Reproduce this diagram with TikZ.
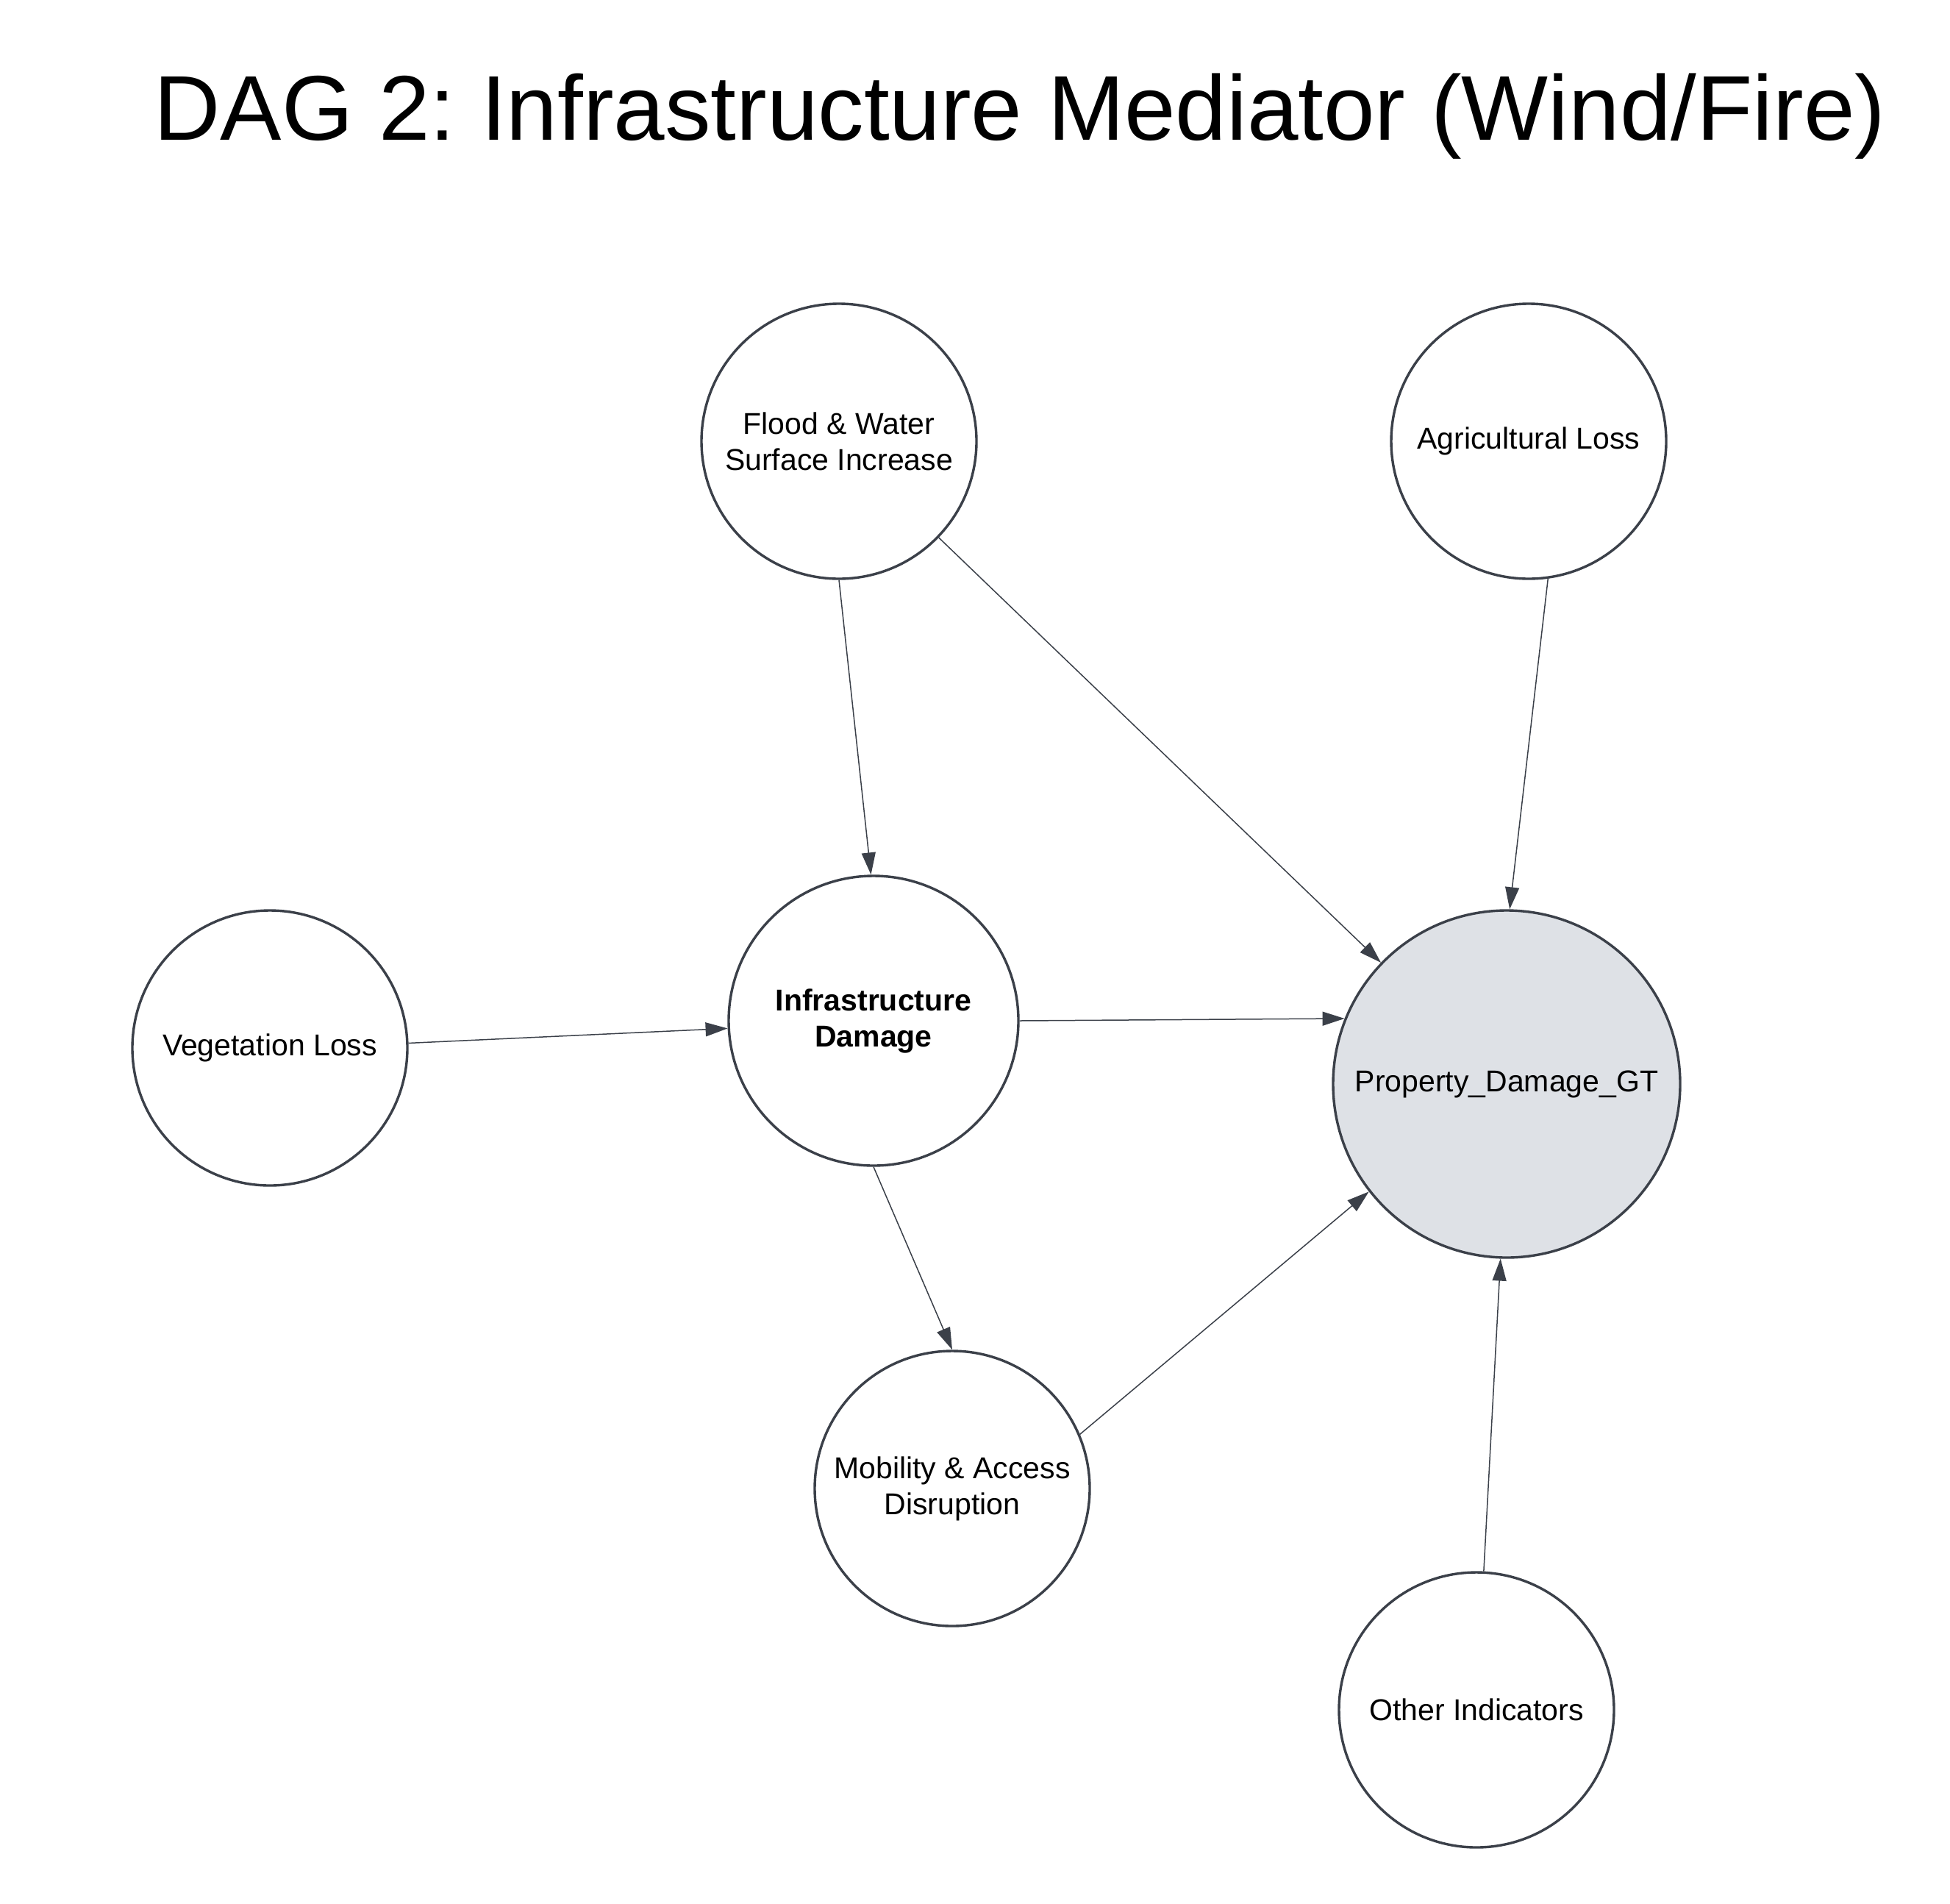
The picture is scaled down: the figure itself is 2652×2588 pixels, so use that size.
\documentclass[tikz,border=0pt]{standalone}
\usepackage{fontspec}
\setmainfont{Liberation Sans}
\usetikzlibrary{arrows.meta}
\frenchspacing
\definecolor{strokec}{RGB}{59,64,73}
\definecolor{gtfill}{RGB}{222,225,230}
\tikzset{
  var/.style={circle, draw=strokec, line width=3.4pt, fill=white, inner sep=0pt,
    minimum size=374pt, align=center, font=\fontsize{41}{49}\selectfont, text=black},
  edge/.style={draw=strokec, line width=1.5pt, -{Triangle[length=30pt,width=19pt]}}
}
\begin{document}
\begin{tikzpicture}[x=1pt,y=-1pt]
\useasboundingbox (0,0) rectangle (2652,2588);
\node[font=\fontsize{125}{150}\selectfont, anchor=base] (title) at (1387,190) {DAG 2: Infrastructure Mediator (Wind/Fire)};
\node[var] (flood) at (1141,600) {Flood \& Water\\Surface Increase};
\node[var] (agri) at (2079,600) {Agricultural Loss};
\node[var, minimum size=394pt, font=\fontsize{41}{49}\selectfont\bfseries] (infra) at (1188,1388) {Infrastructure\\Damage};
\node[var] (veg) at (367,1425) {Vegetation Loss};
\node[var, minimum size=472pt, fill=gtfill] (prop) at (2049,1474) {Property\_Damage\_GT};
\node[var] (mob) at (1295,2024) {Mobility \& Access\\Disruption};
\node[var] (other) at (2008,2325) {Other Indicators};
\draw[edge] (flood.-90) -- (infra.91);
\draw[edge] (flood.-44) -- (prop.136);
\draw[edge] (agri.-82) -- (prop.89.5);
\draw[edge] (veg.2.6) -- (infra.183);
\draw[edge] (infra.0) -- (prop.158.6);
\draw[edge] (infra.-90) -- (mob.90);
\draw[edge] (mob.23.3) -- (prop.-142.8);
\draw[edge] (other.87.4) -- (prop.-92.6);
\end{tikzpicture}
\end{document}
